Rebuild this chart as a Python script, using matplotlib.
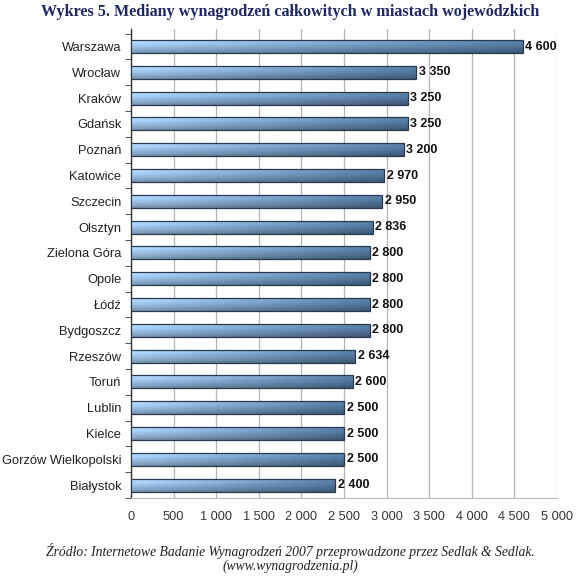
import numpy as np
import matplotlib
matplotlib.use("Agg")
import matplotlib.pyplot as plt
from matplotlib.colors import to_rgb

cities = ["Warszawa", "Wrocław", "Kraków", "Gdańsk", "Poznań", "Katowice",
          "Szczecin", "Olsztyn", "Zielona Góra", "Opole", "Łódź", "Bydgoszcz",
          "Rzeszów", "Toruń", "Lublin", "Kielce", "Gorzów Wielkopolski", "Białystok"]
values = [4600, 3350, 3250, 3250, 3200, 2970, 2950, 2836, 2800, 2800, 2800, 2800,
          2634, 2600, 2500, 2500, 2500, 2400]
xticks = [0, 500, 1000, 1500, 2000, 2500, 3000, 3500, 4000, 4500, 5000]

def fmt(v):
    return "{:,}".format(v).replace(",", " ")

fig = plt.figure(figsize=(5.8, 5.76), dpi=100)
ax = fig.add_axes([131/580, 1-498/576, 426/580, 469/576])

n = len(cities)
ypos = np.arange(n)
bar_h = 0.5

# gradient image: left light blue -> right darker steel blue, lighter top, darker bottom
light = np.array(to_rgb("#acd4fb"))
dark = np.array(to_rgb("#557ba3"))
tx = np.linspace(0, 1, 200)[None, :, None]
ty = np.linspace(0, 1, 20)[:, None, None]
grad = light + (dark - light) * tx
grad = grad * (1.06 - 0.36 * ty ** 1.4)
grad = np.clip(grad, 0, 1)

for y, v in zip(ypos, values):
    ax.imshow(grad, extent=[0, v, y + bar_h/2, y - bar_h/2], aspect="auto",
              zorder=3, interpolation="bilinear")
    ax.add_patch(plt.Rectangle((0, y - bar_h/2), v, bar_h, fill=False,
                               edgecolor="#2a3a4e", lw=0.9, zorder=4))
    ax.text(v + 30, y, fmt(v), va="center", ha="left", fontsize=9,
            fontweight="bold", family="Liberation Sans", color="#111111", zorder=5)

ax.set_xlim(0, 5000)
ax.set_ylim(n - 0.5, -0.68)
ax.set_xticks(xticks)
ax.set_xticklabels([fmt(t) for t in xticks], family="Liberation Sans",
                   fontsize=9.2, color="#333333")
ax.set_yticks(ypos)
ax.set_yticklabels(cities, family="Liberation Sans", fontsize=9.3, color="#222222")
ax.tick_params(axis="y", length=0, pad=7)
ax.tick_params(axis="x", length=0, pad=9)
# small ticks between categories
ax.set_yticks(np.arange(-0.5, n, 1), minor=True)
ax.tick_params(axis="y", which="minor", length=4, color="#333333", direction="out")

ax.grid(axis="x", color="#b5b5b5", lw=0.9, zorder=0)
ax.set_axisbelow(True)
for s in ["top", "right"]:
    ax.spines[s].set_visible(False)
ax.spines["bottom"].set_color("#b5b5b5")
ax.spines["left"].set_color("#333333")
ax.spines["left"].set_linewidth(1.0)

fig.text(0.5, 1 - 12/576, "Wykres 5. Mediany wynagrodzeń całkowitych w miastach wojewódzkich",
         ha="center", va="center", family="Liberation Serif", fontweight="bold",
         fontsize=11.6, color="#1f2866")
fig.text(0.5, 1 - 551/576,
         "Źródło: Internetowe Badanie Wynagrodzeń 2007 przeprowadzone przez Sedlak & Sedlak.",
         ha="center", va="center", family="Liberation Serif", style="italic",
         fontsize=9.8, color="#222222")
fig.text(0.5, 1 - 566/576, "(www.wynagrodzenia.pl)",
         ha="center", va="center", family="Liberation Serif", style="italic",
         fontsize=9.8, color="#222222")

fig.savefig("out.png", dpi=100)
